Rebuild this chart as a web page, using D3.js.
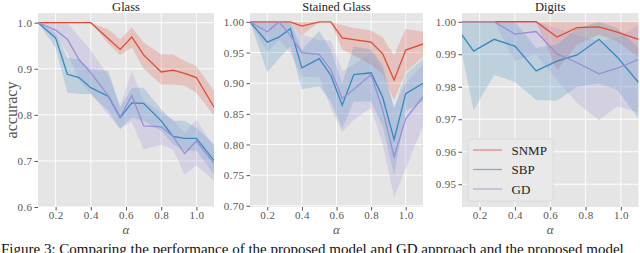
<!DOCTYPE html>
<html lang="en">
<head>
  <meta charset="UTF-8">
  <title>accuracy vs alpha</title>
  <script src="https://d3js.org/d3.v7.min.js"></script>
  <style>
    body { margin: 0; background: #fff; }
    svg text { font-family: "Liberation Serif", "DejaVu Serif", serif; }
  </style>
</head>
<body>
  <div class="canvas"></div>
  <script>
    // alpha values
    const alphaGlass = [0.1, 0.2, 0.267, 0.333, 0.4, 0.5, 0.567, 0.633, 0.7, 0.8, 0.867, 0.933, 1.0, 1.1];
    const alphaDigits = [0.1, 0.166, 0.282, 0.4, 0.52, 0.638, 0.752, 0.876, 0.98, 1.1];
    const seriesNames = ['SNMP', 'SBP', 'GD'];
    const xTicks = [0.2, 0.4, 0.6, 0.8, 1.0];

    // Glass
    const glassSnmp = [1, 1, 1, 1, 1, 0.965, 0.942, 0.969, 0.93, 0.893, 0.897, 0.89, 0.881, 0.817];
    const glassSnmpLo = [1, 1, 1, 1, 1, 0.955, 0.93, 0.946, 0.9, 0.866, 0.866, 0.863, 0.848, 0.798];
    const glassSnmpHi = [1, 1, 1, 1, 1, 0.985, 0.964, 0.99, 0.957, 0.931, 0.931, 0.917, 0.906, 0.852];
    const glassSbp = [1, 0.967, 0.888, 0.881, 0.859, 0.84, 0.794, 0.826, 0.825, 0.787, 0.753, 0.749, 0.749, 0.701];
    const glassSbpLo = [1, 0.946, 0.848, 0.845, 0.845, 0.808, 0.769, 0.794, 0.787, 0.765, 0.736, 0.722, 0.722, 0.671];
    const glassSbpHi = [1, 0.978, 0.924, 0.92, 0.899, 0.895, 0.816, 0.859, 0.859, 0.812, 0.787, 0.787, 0.772, 0.736];
    const glassGd = [1, 0.984, 0.964, 0.92, 0.891, 0.841, 0.795, 0.842, 0.776, 0.774, 0.753, 0.716, 0.743, 0.695];
    const glassGdLo = [1, 0.97, 0.935, 0.875, 0.845, 0.8, 0.77, 0.785, 0.725, 0.735, 0.725, 0.67, 0.69, 0.657];
    const glassGdHi = [1, 1, 1, 0.97, 0.94, 0.885, 0.82, 0.895, 0.83, 0.805, 0.79, 0.76, 0.79, 0.73];
    const glassYTicks = [0.6, 0.7, 0.8, 0.9, 1.0];

    // Stained Glass
    const stainSnmp = [1, 1, 1, 1, 0.993, 1, 1, 0.974, 0.971, 0.967, 0.948, 0.905, 0.954, 0.964];
    const stainSnmpLo = [1, 1, 1, 1, 0.978, 1, 1, 0.955, 0.945, 0.93, 0.915, 0.872, 0.918, 0.943];
    const stainSnmpHi = [1, 1, 1, 1, 1, 1, 1, 0.995, 0.99, 0.986, 0.975, 0.945, 0.989, 0.984];
    const stainSbp = [1, 0.967, 0.975, 0.989, 0.925, 0.94, 0.913, 0.864, 0.914, 0.917, 0.877, 0.808, 0.883, 0.9];
    const stainSbpLo = [1, 0.918, 0.94, 0.96, 0.89, 0.895, 0.87, 0.826, 0.87, 0.87, 0.83, 0.75, 0.855, 0.87];
    const stainSbpHi = [1, 1, 1, 1, 0.955, 0.985, 0.955, 0.9, 0.96, 0.955, 0.93, 0.86, 0.915, 0.94];
    const stainGd = [1, 0.984, 1, 0.978, 0.95, 0.947, 0.922, 0.875, 0.89, 0.914, 0.856, 0.78, 0.842, 0.878];
    const stainGdLo = [1, 0.95, 0.97, 0.95, 0.91, 0.91, 0.86, 0.82, 0.84, 0.86, 0.8, 0.714, 0.76, 0.83];
    const stainGdHi = [1, 1, 1, 1, 0.98, 0.97, 0.97, 0.92, 0.93, 0.95, 0.92, 0.86, 0.9, 0.93];
    const stainYTicks = [0.70, 0.75, 0.80, 0.85, 0.90, 0.95, 1.00];

    // Digits
    const digSnmp = [1, 1, 1, 1, 1, 0.9953, 0.9982, 0.9984, 0.9968, 0.9946];
    const digSnmpLo = [1, 1, 1, 1, 1, 0.985, 0.993, 0.996, 0.994, 0.989];
    const digSnmpHi = [1, 1, 1, 1, 1, 1, 1, 1, 1, 1];
    const digSbp = [0.996, 0.991, 0.9946, 0.9925, 0.9849, 0.9879, 0.9898, 0.9946, 0.9891, 0.9813];
    const digSbpLo = [0.99, 0.9728, 0.9836, 0.9815, 0.9759, 0.9757, 0.98, 0.981, 0.979, 0.9702];
    const digSbpHi = [1, 1, 1, 1, 0.992, 0.993, 0.998, 1, 0.998, 0.992];
    const digGd = [1, 1, 1, 0.9962, 0.997, 0.9901, 0.9874, 0.984, 0.9857, 0.9884];
    const digGdLo = [1, 1, 1, 0.988, 0.99, 0.982, 0.975, 0.9697, 0.974, 0.972];
    const digGdHi = [1, 1, 1, 1, 1, 0.998, 0.996, 0.994, 0.995, 0.999];
    const digYTicks = [0.95, 0.96, 0.97, 0.98, 0.99, 1.00];

    const colors = ['#E24A33', '#348ABD', '#988ED5'];

    const panels = [
      { title: 'Glass', left: 38, right: 214, yDomain: [0.6, 1.021], yTicks: glassYTicks, fmt: '.1f', x: alphaGlass,
        mean: [glassSnmp, glassSbp, glassGd], lo: [glassSnmpLo, glassSbpLo, glassGdLo], hi: [glassSnmpHi, glassSbpHi, glassGdHi] },
      { title: 'Stained Glass', left: 250, right: 423, yDomain: [0.698, 1.0145], yTicks: stainYTicks, fmt: '.2f', x: alphaGlass,
        mean: [stainSnmp, stainSbp, stainGd], lo: [stainSnmpLo, stainSbpLo, stainGdLo], hi: [stainSnmpHi, stainSbpHi, stainGdHi] },
      { title: 'Digits', left: 462, right: 638.5, yDomain: [0.943, 1.0027], yTicks: digYTicks, fmt: '.2f', x: alphaDigits,
        mean: [digSnmp, digSbp, digGd], lo: [digSnmpLo, digSbpLo, digGdLo], hi: [digSnmpHi, digSbpHi, digGdHi], legend: true }
    ];

    const width = 640;
    const height = 253;
    const plotTop = 13, plotBottom = 207;

    const svg = d3.select('.canvas')
                    .append('svg')
                    .attr('width', width)
                    .attr('height', height);

    panels.forEach((p, pi) => {
      const x = d3.scaleLinear().domain([0.1, 1.1]).range([p.left, p.right]);
      const y = d3.scaleLinear().domain(p.yDomain).range([plotBottom, plotTop]);
      const g = svg.append('g');

      g.append('rect')
        .attr('x', p.left).attr('y', plotTop)
        .attr('width', p.right - p.left).attr('height', plotBottom - plotTop)
        .attr('fill', '#E5E5E5');

      // grid
      g.selectAll('.gx').data(xTicks).enter().append('line')
        .attr('x1', d => x(d)).attr('x2', d => x(d))
        .attr('y1', plotTop).attr('y2', plotBottom)
        .attr('stroke', '#fff').attr('stroke-width', 0.9);
      g.selectAll('.gy').data(p.yTicks).enter().append('line')
        .attr('x1', p.left).attr('x2', p.right)
        .attr('y1', d => y(d)).attr('y2', d => y(d))
        .attr('stroke', '#fff').attr('stroke-width', 0.9);

      // axes
      const xAxis = d3.axisBottom(x).tickValues(xTicks).tickSize(3.5).tickPadding(1).tickFormat(d3.format('.1f'));
      const yAxis = d3.axisLeft(y).tickValues(p.yTicks).tickSize(3.5).tickPadding(2).tickFormat(d3.format(p.fmt));
      [g.append('g').attr('transform', `translate(0,${plotBottom})`).call(xAxis),
       g.append('g').attr('transform', `translate(${p.left},0)`).call(yAxis)].forEach(a => {
        a.select('.domain').remove();
        a.selectAll('line').attr('stroke', '#555');
        a.selectAll('text').attr('fill', '#555').style('font-size', '11px')
          .style('font-family', '"Liberation Serif", serif').style('letter-spacing', '0.4px');
      });

      const clipId = 'clip' + pi;
      svg.append('clipPath').attr('id', clipId).append('rect')
        .attr('x', p.left).attr('y', plotTop).attr('width', p.right - p.left).attr('height', plotBottom - plotTop);
      const plot = g.append('g').attr('clip-path', `url(#${clipId})`);

      const area = d3.area().x(d => x(d.a)).y0(d => y(d.lo)).y1(d => y(d.hi));
      const line = d3.line().x(d => x(d.a)).y(d => y(d.m));

      const rows = seriesNames.map((name, si) => p.x.map((a, i) => ({
        a, m: p.mean[si][i], lo: p.lo[si][i], hi: p.hi[si][i]
      })));

      rows.forEach((r, si) => {
        plot.append('path').datum(r).attr('d', area)
          .attr('fill', colors[si]).attr('fill-opacity', 0.22);
      });
      rows.forEach((r, si) => {
        plot.append('path').datum(r).attr('d', line)
          .attr('fill', 'none').attr('stroke', colors[si]).attr('stroke-width', 1.3);
      });

      const cx = (p.left + p.right) / 2;
      g.append('text').attr('x', cx).attr('y', 10.5)
        .attr('text-anchor', 'middle').attr('fill', '#222')
        .style('font-size', '12.5px').text(p.title);
      g.append('text').attr('x', cx).attr('y', 234)
        .attr('text-anchor', 'middle').attr('fill', '#555')
        .style('font-size', '13px').style('font-style', 'italic').text('α');

      if (p.legend) {
        const lg = g.append('g');
        lg.append('rect').attr('x', 468).attr('y', 139).attr('width', 85).attr('height', 62)
          .attr('rx', 3).attr('fill', '#E9E9E9').attr('stroke', '#D8D8D8').attr('stroke-width', 0.8);
        seriesNames.forEach((name, si) => {
          const ly = 150 + si * 19.5;
          lg.append('line').attr('x1', 473).attr('x2', 502).attr('y1', ly).attr('y2', ly)
            .attr('stroke', colors[si]).attr('stroke-width', 1.3).attr('stroke-opacity', 0.6);
          lg.append('text').attr('x', 511.5).attr('y', ly + 4.5).attr('fill', '#222')
            .style('font-size', '13px').text(name);
        });
      }
    });

    svg.append('text').attr('x', 11).attr('y', 110)
      .attr('transform', 'rotate(-90, 11, 110)')
      .attr('text-anchor', 'middle').attr('dy', '0.35em').attr('fill', '#555')
      .style('font-size', '16px').text('accuracy');

    svg.append('text').attr('x', 1).attr('y', 253.5)
      .attr('fill', '#111').style('font-size', '15px')
      .text('Figure 3: Comparing the performance of the proposed model and GD approach and the proposed model');
  </script>
</body>
</html>
